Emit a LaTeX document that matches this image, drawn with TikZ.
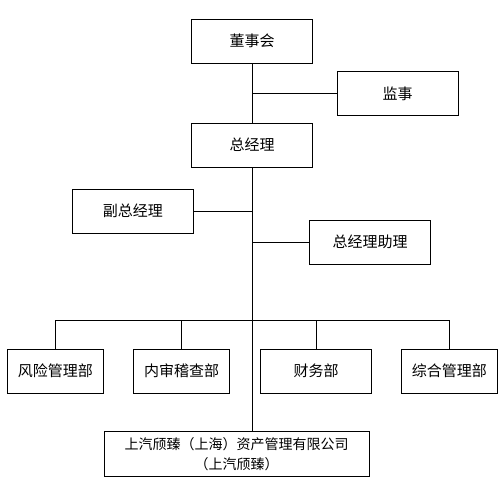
\documentclass[tikz,border=0pt]{standalone}
\usepackage{fontspec}
\setmainfont{Noto Sans CJK SC}
\usepackage{tikz}
\usetikzlibrary{positioning}
\tikzset{
  org-box/.style={draw=black,line width=0.9pt,fill=white,minimum height=44pt,
    align=center,inner sep=0pt,font=\fontsize{15}{18}\selectfont},
  org-wide/.style={minimum width=121pt},
  org-dept/.style={minimum width=96pt},
  link/.style={draw=black,line width=0.9pt},
}
\begin{document}
\begin{tikzpicture}[x=1pt,y=1pt]
  \useasboundingbox (0,0) rectangle (503,-500);
  \node[org-box,org-wide] (board) at (252,-41.3) {董事会};
  \node[org-box,org-wide,below=59pt of board] (gm) {总经理};
  \node[org-box,org-wide] (supervisor) at (397.5,-93.7) {监事};
  \node[org-box,org-wide] (deputy) at (132.8,-211.3) {副总经理};
  \node[org-box,org-wide] (assistant) at (370,-242.3) {总经理助理};
  \node[org-box,org-dept] (risk) at (55.3,-371) {风险管理部};
  \node[org-box,org-dept,right=29.4pt of risk] (audit) {内审稽查部};
  \node[org-box,minimum width=111.4pt,right=30pt of audit] (finance) {财务部};
  \node[org-box,org-dept,right=28.6pt of finance] (general) {综合管理部};
  \node[org-box,minimum width=265pt,minimum height=44.3pt,
    font=\fontsize{14}{20}\selectfont] (company) at (236.7,-453.8)
    {上汽颀臻（上海）资产管理有限公司\\（上汽颀臻）};
  \coordinate[below=152.3pt of gm.south] (bus);
  % trunk
  \draw[link] (board) -- (gm);
  \draw[link] (gm.south) -- (gm.south |- company.north);
  % side branches
  \draw[link] (board.south |- supervisor.west) -- (supervisor.west);
  \draw[link] (gm.south |- deputy.east) -- (deputy.east);
  \draw[link] (gm.south |- assistant.west) -- (assistant.west);
  % departments
  \draw[link] (risk.north) |- (bus) -| (general.north);
  \draw[link] (audit.north) -- (audit.north |- bus);
  \draw[link] (finance.north) -- (finance.north |- bus);
\end{tikzpicture}
\end{document}
